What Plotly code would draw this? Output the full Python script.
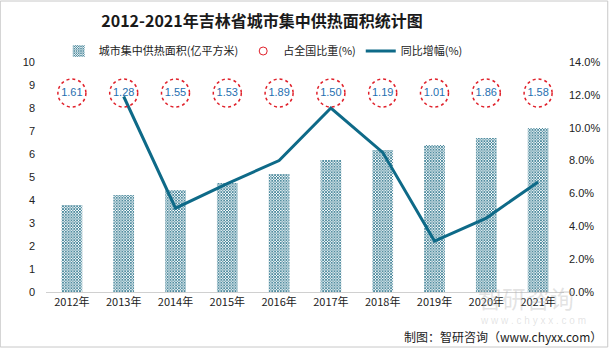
import plotly.graph_objects as go

years = ["2012年", "2013年", "2014年", "2015年", "2016年", "2017年", "2018年", "2019年", "2020年", "2021年"]
area = [3.78, 4.22, 4.43, 4.74, 5.13, 5.74, 6.17, 6.39, 6.70, 7.13]
share = [1.61, 1.28, 1.55, 1.53, 1.89, 1.50, 1.19, 1.01, 1.86, 1.58]
growth = [None, 11.9, 5.1, 6.6, 8.0, 11.2, 8.5, 3.1, 4.5, 6.7]
label_level = 8.65

teal = "#0e6a88"
font_cjk = "Noto Sans CJK SC"

fig = go.Figure()
fig.add_trace(go.Bar(
    x=years, y=area, name="城市集中供热面积(亿平方米)", width=0.4,
    marker=dict(color="white", line=dict(width=0),
                pattern=dict(shape="x", fgcolor="#1f6c85", bgcolor="white", size=2, solidity=0.6, fillmode="replace")),
))
fig.add_trace(go.Scatter(
    x=[None], y=[None], mode="markers", name="占全国比重(%)",
    marker=dict(symbol="circle-open", size=8, color="#e0202a", line=dict(width=1)),
))
fig.add_trace(go.Scatter(
    x=years, y=[label_level] * len(years), mode="text", showlegend=False,
    text=[f"{v:.2f}" for v in share], textfont=dict(color="#1f6fb0", size=11, family="Liberation Sans"),
    hoverinfo="skip",
))
fig.add_trace(go.Scatter(
    x=years, y=growth, yaxis="y2", mode="lines", name="同比增幅(%)",
    line=dict(color=teal, width=3), connectgaps=False,
))

for i, _ in enumerate(years):
    fig.add_shape(type="circle", xref="x", yref="y", xsizemode="pixel", ysizemode="pixel",
                  xanchor=i, yanchor=label_level, x0=-14, x1=14, y0=-14, y1=14,
                  line=dict(color="#e0202a", width=1.5, dash="dot"), layer="above")

fig.add_shape(type="rect", xref="paper", yref="paper", x0=-46/521, x1=1 + 44/521, y0=-55/230, y1=1 + 61/230,
              line=dict(color="#c8c8c8", width=1))

fig.update_layout(
    width=612, height=348,
    margin=dict(l=46, r=45, t=62, b=56),
    paper_bgcolor="white", plot_bgcolor="white",
    font=dict(family=font_cjk, size=11, color="#333333"),
    title=dict(text="<b>2012-2021年吉林省城市集中供热面积统计图</b>", x=262/612, xanchor="center",
               y=1 - 21/348, yanchor="middle", font=dict(size=16, color="#1a1a1a", family=font_cjk)),
    legend=dict(orientation="h", x=0.5 - 42/521, xanchor="center", y=1 + 11/230, yanchor="middle",
                font=dict(size=11, color="#222"), bgcolor="rgba(0,0,0,0)", itemwidth=30,
                traceorder="normal"),
    bargap=0.6,
    xaxis=dict(showline=True, linecolor="#d0d0d0", linewidth=1, ticks="", showgrid=False,
               tickfont=dict(size=11, color="#222"), range=[-0.5, 9.5]),
    yaxis=dict(range=[0, 10], dtick=1, showgrid=False, zeroline=False, showline=False,
               tickfont=dict(size=11, color="#222", family="Liberation Sans"), ticklabelstandoff=10),
    yaxis2=dict(range=[0, 14], dtick=2, overlaying="y", side="right", showgrid=False, zeroline=False,
                tickformat=".1f", ticksuffix="%", tickfont=dict(size=11, color="#222", family="Liberation Sans"),
                ticklabelstandoff=4),
    showlegend=True,
)

fig.add_annotation(text="智研咨询", xref="paper", yref="paper", x=(478 - 46) / 521, y=(292 - 297) / 230,
                   xanchor="left", yanchor="middle", showarrow=False,
                   font=dict(size=24, color="rgba(175,175,175,0.35)", family=font_cjk))
fig.add_annotation(text="w w w . c h y x x . c o m", xref="paper", yref="paper", x=(480 - 46) / 521,
                   y=(292 - 320) / 230, xanchor="left", yanchor="middle", showarrow=False,
                   font=dict(size=10, color="rgba(175,175,175,0.35)", family="Liberation Sans"))
fig.add_annotation(text="制图：智研咨询（www.chyxx.com）", xref="paper", yref="paper", x=1 + 40/521,
                   y=(292 - 336) / 230, xanchor="right", yanchor="middle", showarrow=False,
                   font=dict(size=12, color="#222", family=font_cjk))

fig.write_html("out.html")
